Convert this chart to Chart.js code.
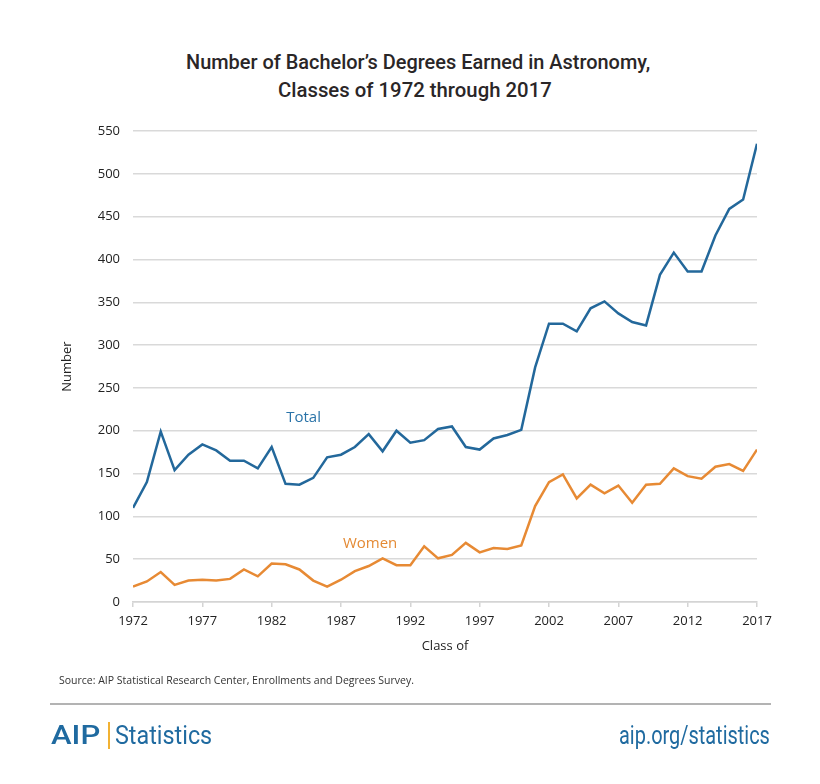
<!DOCTYPE html>
<html>
<head>
<meta charset="utf-8">
<title>Bachelor's Degrees in Astronomy</title>
<script src="https://cdn.jsdelivr.net/npm/chart.js@4.4.1/dist/chart.umd.min.js"></script>
<style>
    html, body { margin: 0; padding: 0; background: #fff; }
    #wrap { position: relative; width: 820px; height: 784px; overflow: hidden; }
    #chart { position: absolute; left: 0; top: 0; }
    .fit { position: absolute; white-space: nowrap; display: inline-block; }
    .title {
        font-family: Roboto, sans-serif; font-weight: 500;
        font-size: 21px; color: #2a2627; line-height: 24px;
    }
    .source {
        position: absolute; left: 59px; top: 673px;
        font-family: "Open Sans", sans-serif; font-size: 10.5px; color: #333;
    }
    .rule { position: absolute; left: 50px; top: 703px; width: 721px; height: 2px; background: #b3b3b3; }
    .logo {
        line-height: 30px; font-size: 26px;
        font-family: Roboto, sans-serif; color: #1f6aa0;
    }
    .aip { font-weight: 500; }
    .bar { position: absolute; left: 108px; top: 722px; width: 2px; height: 27px; background: #f2b233; }
</style>
</head>
<body>
<div id="wrap">
    <span class="fit title" id="title1">Number of Bachelor’s Degrees Earned in Astronomy,</span>
    <span class="fit title" id="title2">Classes of 1972 through 2017</span>
    <canvas id="chart" width="820" height="784"></canvas>
    <div class="source">Source: AIP Statistical Research Center, Enrollments and Degrees Survey.</div>
    <div class="rule"></div>
    <span class="fit logo aip" id="logoAip">AIP</span>
    <div class="bar"></div>
    <span class="fit logo" id="logoStats">Statistics</span>
    <span class="fit logo" id="logoUrl">aip.org/statistics</span>
</div>
<script>
// --- Data ---
const years = [];
for (let y = 1972; y <= 2017; y++) years.push(y);

const totalDegrees = [110, 140, 199, 154, 172, 184, 177, 165, 165, 156,
    181, 138, 137, 145, 169, 172, 181, 196, 176, 200,
    186, 189, 202, 205, 181, 178, 191, 195, 201, 274,
    325, 325, 316, 343, 351, 337, 327, 323, 382, 408,
    386, 386, 428, 459, 470, 535];

const womenDegrees = [18, 24, 35, 20, 25, 26, 25, 27, 38, 30,
    45, 44, 38, 25, 18, 26, 36, 42, 51, 43,
    43, 65, 51, 55, 69, 58, 63, 62, 66, 112,
    140, 149, 121, 137, 127, 136, 116, 137, 138, 156,
    147, 144, 158, 161, 153, 178];

const xTickYears = [1972, 1977, 1982, 1987, 1992, 1997, 2002, 2007, 2012, 2017];

// where the in-chart series labels sit, in data units
const seriesLabels = [
    { text: 'Total', year: 1984.3, value: 215, color: '#2a73a8' },
    { text: 'Women', year: 1989.1, value: 68, color: '#e48a34' }
];

const BLUE = '#23689b';
const ORANGE = '#e78a34';

// --- Condensed text: squeeze a span horizontally into [left, right] ---
function fitText(id, left, right, centerY) {
    const el = document.getElementById(id);
    const w = el.offsetWidth;
    const h = el.offsetHeight;
    el.style.transformOrigin = 'left center';
    el.style.left = left + 'px';
    el.style.top = (centerY - h / 2) + 'px';
    el.style.transform = `scaleX(${(right - left) / w})`;
}

fitText('title1', 186, 650, 62);
fitText('title2', 278, 552, 90);
fitText('logoAip', 51, 100, 735);
fitText('logoStats', 115, 212, 735);
fitText('logoUrl', 619, 770, 735);

// Draws the "Total" / "Women" labels next to their lines
const seriesLabelPlugin = {
    id: 'seriesLabels',
    afterDatasetsDraw(chart) {
        const ctx = chart.ctx;
        const xs = chart.scales.x;
        const ys = chart.scales.y;
        ctx.save();
        ctx.font = '15px "Open Sans", sans-serif';
        ctx.textAlign = 'center';
        ctx.textBaseline = 'middle';
        seriesLabels.forEach(l => {
            ctx.fillStyle = l.color;
            ctx.fillText(l.text, xs.getPixelForValue(l.year), ys.getPixelForValue(l.value));
        });
        ctx.restore();
    }
};

const ctx = document.getElementById('chart').getContext('2d');
new Chart(ctx, {
    type: 'line',
    data: {
        labels: years,
        datasets: [
            {
                label: 'Total',
                data: years.map((y, i) => ({ x: y, y: totalDegrees[i] })),
                borderColor: BLUE,
                borderWidth: 2.5,
                pointRadius: 0,
                tension: 0
            },
            {
                label: 'Women',
                data: years.map((y, i) => ({ x: y, y: womenDegrees[i] })),
                borderColor: ORANGE,
                borderWidth: 2.5,
                pointRadius: 0,
                tension: 0
            }
        ]
    },
    options: {
        responsive: false,
        animation: false,
        layout: { padding: { left: 59, right: 63, top: 131, bottom: 130 } },
        plugins: {
            legend: { display: false },
            tooltip: { enabled: false },
            title: { display: false }
        },
        scales: {
            x: {
                type: 'linear',
                min: 1972,
                max: 2017,
                afterBuildTicks: scale => { scale.ticks = xTickYears.map(v => ({ value: v })); },
                afterFit: scale => { scale.height = 52; },
                ticks: {
                    autoSkip: false,
                    maxRotation: 0,
                    padding: 6,
                    color: '#222',
                    font: { family: '"Open Sans", sans-serif', size: 13 },
                    callback: v => String(v)
                },
                grid: { drawOnChartArea: false, drawTicks: true, tickLength: 5, color: '#d4d4d4', lineWidth: 1.5 },
                border: { color: '#d4d4d4', width: 1.5 },
                title: {
                    display: true,
                    text: 'Class of',
                    color: '#222',
                    font: { family: '"Open Sans", sans-serif', size: 13 },
                    padding: { top: 4, bottom: 0 }
                }
            },
            y: {
                min: 0,
                max: 550,
                afterFit: scale => { scale.width = 74; },
                ticks: {
                    stepSize: 50,
                    padding: 13,
                    color: '#222',
                    font: { family: '"Open Sans", sans-serif', size: 13 }
                },
                grid: { drawTicks: false, color: '#d9d9d9', lineWidth: 1.5 },
                border: { display: false },
                title: {
                    display: true,
                    text: 'Number',
                    color: '#222',
                    font: { family: '"Open Sans", sans-serif', size: 13 },
                    padding: { top: 0, bottom: 0 }
                }
            }
        }
    },
    plugins: [seriesLabelPlugin]
});
</script>
</body>
</html>
